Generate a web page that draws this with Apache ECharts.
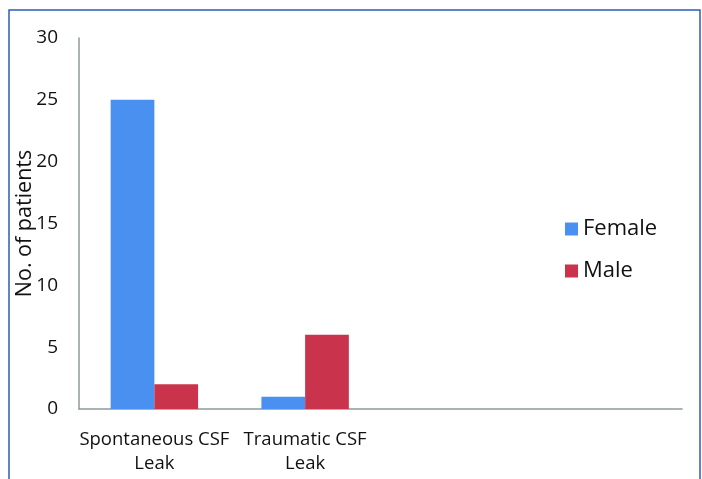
<!DOCTYPE html>
<html>
<head>
<meta charset="utf-8">
<script src="https://cdn.jsdelivr.net/npm/echarts@6/dist/echarts.min.js"></script>
<style>
html,body{margin:0;padding:0;background:#fff;}
#chart{width:702px;height:479px;}
</style>
</head>
<body>
<div id="chart"></div>
<script>
const categories = ['Spontaneous CSF\nLeak', 'Traumatic CSF\nLeak', '', ''];
const femaleValues = [25, 1, null, null];
const maleValues = [2, 6, null, null];
const seriesNames = ['Female', 'Male'];

const chart = echarts.init(document.getElementById('chart'));
const font = '"Open Sans", "Noto Sans", sans-serif';
chart.setOption({
  animation: false,
  graphic: [{
    type: 'rect',
    shape: { x: 9, y: 10, width: 691, height: 500 },
    style: { fill: 'none', stroke: '#2e5cb8', lineWidth: 1.5 },
    silent: true
  }],
  grid: { left: 79, right: 20, top: 38, bottom: 70, containLabel: false, outerBoundsMode: 'none' },
  legend: {
    orient: 'vertical',
    left: 560,
    top: 213,
    itemWidth: 13,
    itemHeight: 13,
    itemGap: 20,
    icon: 'rect',
    data: seriesNames,
    textStyle: { fontFamily: font, fontSize: 22, color: '#111' }
  },
  xAxis: {
    type: 'category',
    data: categories,
    axisLine: { lineStyle: { color: '#8c9b9b', width: 1.5 } },
    axisTick: { show: false },
    axisLabel: { fontFamily: font, fontSize: 18.5, color: '#111', margin: 19, lineHeight: 24, interval: 0 }
  },
  yAxis: {
    type: 'value',
    min: 0, max: 30, interval: 5,
    name: 'No. of patients',
    nameLocation: 'middle',
    nameGap: 43,
    nameMoveOverlap: false,
    nameTextStyle: { fontFamily: font, fontSize: 21.5, fontWeight: 500, color: '#111' },
    axisLine: { show: true, lineStyle: { color: '#8c9b9b', width: 1.5 } },
    axisTick: { show: false },
    splitLine: { show: false },
    axisLabel: { fontFamily: font, fontSize: 19, color: '#111', margin: 21 }
  },
  series: [
    { name: seriesNames[0], type: 'bar', data: femaleValues, barGap: '0%', barCategoryGap: '42%', itemStyle: { color: '#4a90f0' } },
    { name: seriesNames[1], type: 'bar', data: maleValues, itemStyle: { color: '#c9334b' } }
  ]
});
</script>
</body>
</html>
